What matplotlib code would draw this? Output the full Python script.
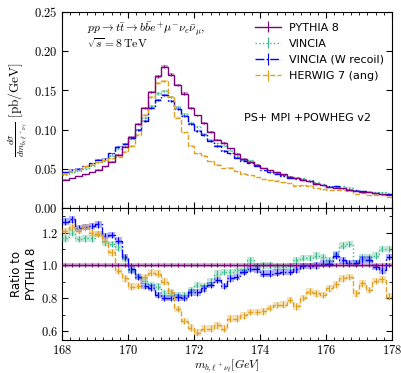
import numpy as np
import matplotlib.pyplot as plt
from matplotlib.ticker import MultipleLocator, FuncFormatter

plt.rcParams['mathtext.fontset'] = 'cm'
plt.rcParams['font.family'] = ['DejaVu Sans']

# bin edges in m_{b,l+nu} [GeV], 0.2 GeV bins
edges = np.round(np.arange(168.0, 178.01, 0.2), 1)

# PYTHIA 8 distribution [pb/GeV]
pythia = [0.036, 0.038, 0.041, 0.043, 0.046, 0.049, 0.053, 0.059, 0.068, 0.078,
          0.091, 0.107, 0.127, 0.148, 0.168, 0.180, 0.170, 0.157, 0.146, 0.128,
          0.118, 0.108, 0.097, 0.087, 0.083, 0.076, 0.069, 0.063, 0.059, 0.055,
          0.051, 0.048, 0.046, 0.043, 0.040, 0.038, 0.036, 0.034, 0.031, 0.029,
          0.027, 0.026, 0.025, 0.023, 0.022, 0.021, 0.020, 0.019, 0.018, 0.017]

# ratios to PYTHIA 8
ratio_vincia = [1.165, 1.20, 1.16, 1.165, 1.165, 1.19, 1.14, 1.13, 1.11, 1.04,
                0.97, 0.935, 0.905, 0.88, 0.87, 0.83, 0.83, 0.82, 0.82, 0.85,
                0.88, 0.875, 0.90, 0.95, 0.96, 0.96, 0.97, 0.97, 1.03, 0.995,
                1.0, 1.0, 0.99, 0.99, 0.995, 1.03, 1.045, 1.045, 1.06, 1.05,
                1.03, 1.07, 1.12, 1.13, 1.01, 1.05, 1.05, 1.06, 1.10, 1.10]
ratio_wrecoil = [1.266, 1.28, 1.225, 1.235, 1.24, 1.25, 1.18, 1.185, 1.15, 1.05,
                 0.975, 0.93, 0.875, 0.865, 0.82, 0.80, 0.80, 0.805, 0.80, 0.835,
                 0.835, 0.86, 0.88, 0.91, 0.875, 0.92, 0.93, 0.96, 0.98, 0.975,
                 0.95, 0.95, 0.955, 0.96, 0.96, 0.976, 0.996, 0.996, 1.0, 1.01,
                 1.01, 1.06, 1.03, 1.015, 1.015, 1.035, 1.035, 0.99, 0.97, 1.05]
ratio_herwig = [1.21, 1.235, 1.21, 1.235, 1.20, 1.19, 1.15, 1.08, 0.965, 0.92,
                0.87, 0.875, 0.93, 0.955, 0.95, 0.90, 0.835, 0.735, 0.66, 0.62,
                0.59, 0.615, 0.615, 0.635, 0.615, 0.675, 0.675, 0.695, 0.715, 0.715,
                0.72, 0.74, 0.758, 0.76, 0.79, 0.75, 0.80, 0.84, 0.83, 0.82,
                0.86, 0.885, 0.92, 0.93, 0.83, 0.89, 0.85, 0.905, 0.915, 0.81]

labels = ['PYTHIA 8', 'VINCIA', 'VINCIA (W recoil)', 'HERWIG 7 (ang)']
colors = ['#800080', '#3cb98a', '#0000ff', '#e0a020']
styles = ['-', ':', '-.', '--']
top_err = 0.01     # relative stat. uncertainty
ratio_err = [0.012, 0.02, 0.02, 0.02]

pythia = np.array(pythia)
ratios = [np.ones_like(pythia), np.array(ratio_vincia),
          np.array(ratio_wrecoil), np.array(ratio_herwig)]
centers = 0.5 * (edges[1:] + edges[:-1])

fig = plt.figure(figsize=(4.01, 3.73), dpi=100)
ax1 = fig.add_axes([0.155, 0.4424, 0.823, 0.5255])
ax2 = fig.add_axes([0.155, 0.0885, 0.823, 0.354], sharex=ax1)

order = [1, 2, 3, 0]
for i in order:
    c, ls = colors[i], styles[i]
    z = 5 if i == 0 else 3
    vals = pythia * ratios[i]
    ev = vals * top_err
    ax1.stairs(vals + ev, edges, baseline=vals - ev, fill=True, color=c, alpha=0.35, lw=0, zorder=z)
    ax1.stairs(vals, edges, baseline=None, color=c, ls=ls, lw=1.0, zorder=z)
    ax1.errorbar(centers, vals, yerr=ev, fmt='none', ecolor=c, elinewidth=0.8, zorder=z)

    r = ratios[i]
    er = ratio_err[i]
    ax2.stairs(r + er, edges, baseline=r - er, fill=True, color=c, alpha=0.3, lw=0, zorder=z)
    ax2.stairs(r, edges, baseline=None, color=c, ls=ls, lw=1.0, zorder=z)
    ax2.errorbar(centers, r, yerr=er, fmt='none', ecolor=c, elinewidth=0.8, zorder=z)

handles = []
for i in range(4):
    h = ax1.errorbar([np.nan], [np.nan], yerr=[1], color=colors[i], ls=styles[i], lw=1.0,
                     elinewidth=0.8, label=labels[i])
    handles.append(h)

ax1.legend(handles=handles, labels=labels, loc='upper right', bbox_to_anchor=(1.0, 0.985),
           frameon=False, fontsize=8, handlelength=2.3, labelspacing=0.55,
           borderaxespad=0.3, handletextpad=0.8)

ax1.set_xlim(168, 178)
ax1.set_ylim(0.0, 0.25)
ax2.set_ylim(0.545, 1.35)

ax1.text(0.075, 0.895, r'$pp\to t\bar{t}\to b\bar{b}e^{+}\mu^{-}\nu_{e}\bar{\nu}_{\mu},$',
         transform=ax1.transAxes, fontsize=8.5, va='baseline')
ax1.text(0.075, 0.815, r'$\sqrt{s}=8\,\mathrm{TeV}$',
         transform=ax1.transAxes, fontsize=8.5, va='baseline')
ax1.text(0.55, 0.445, 'PS+ MPI +POWHEG v2', transform=ax1.transAxes, fontsize=8, va='baseline')

ax1.set_ylabel(r'$\frac{d\sigma}{dm_{b_\ell\,\ell^+\nu_\ell}}\ [\mathrm{pb/GeV}]$', fontsize=9.5)
ax2.set_ylabel('Ratio to\nPYTHIA 8', fontsize=8.5, labelpad=2)
ax2.set_xlabel(r'$m_{b,\ell^+\nu_\ell}[GeV]$', fontsize=8.5, labelpad=0)

ax1.yaxis.set_major_locator(MultipleLocator(0.05))
ax1.yaxis.set_major_formatter(FuncFormatter(lambda v, p: f'${v:.2f}$'))
ax2.yaxis.set_major_locator(MultipleLocator(0.2))
ax2.yaxis.set_minor_locator(MultipleLocator(0.1))
ax2.yaxis.set_major_formatter(FuncFormatter(lambda v, p: f'${v:.1f}$'))
ax2.xaxis.set_major_locator(MultipleLocator(2))
ax2.xaxis.set_minor_locator(MultipleLocator(0.25))
ax2.xaxis.set_major_formatter(FuncFormatter(lambda v, p: f'${v:.0f}$'))
ax1.tick_params(labelbottom=False)

for ax in (ax1, ax2):
    ax.tick_params(which='both', direction='in', top=True, right=True, labelsize=9)
    ax.tick_params(which='major', length=4, pad=3)
    ax.tick_params(which='minor', length=2)

fig.savefig('out.png', dpi=100)
